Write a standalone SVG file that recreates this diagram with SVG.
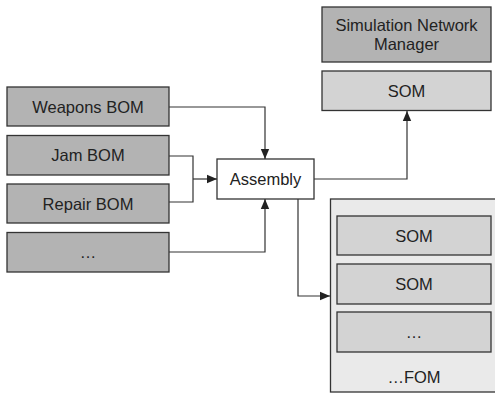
<svg xmlns="http://www.w3.org/2000/svg" width="495" height="394" viewBox="0 0 495 394">
  <style>
    .box { stroke: #333333; stroke-width: 1.3; }
    .dark { fill: #b3b3b3; }
    .light { fill: #d3d3d3; }
    .white { fill: #ffffff; }
    .pane { fill: #eaeaea; }
    .lbl { font-family: "Liberation Sans", Arial, sans-serif; font-size: 16.5px; fill: #222222; text-anchor: middle; }
    .wire { fill: none; stroke: #333333; stroke-width: 1.2; }
  </style>
  <defs>
    <marker id="arrow" markerUnits="userSpaceOnUse" markerWidth="10" markerHeight="10" viewBox="0 0 10 10" refX="10" refY="5" orient="auto">
      <path d="M0,0.8 L10,5 L0,9.2 Z" fill="#222222"/>
    </marker>
  </defs>

  <!-- input BOMs -->
  <g id="weapons-bom">
    <rect class="box dark" x="7" y="87" width="162" height="39"/>
    <text class="lbl" x="88" y="112.5">Weapons BOM</text>
  </g>
  <g id="jam-bom">
    <rect class="box dark" x="7" y="135.5" width="162" height="39.5"/>
    <text class="lbl" x="88" y="161">Jam BOM</text>
  </g>
  <g id="repair-bom">
    <rect class="box dark" x="7" y="184" width="162" height="39"/>
    <text class="lbl" x="88" y="209.5">Repair BOM</text>
  </g>
  <g id="more-bom">
    <rect class="box dark" x="7" y="232.5" width="162" height="39.5"/>
    <text class="lbl" x="88" y="258">…</text>
  </g>

  <!-- assembly step -->
  <g id="assembly">
    <rect class="box white" x="217" y="159" width="97" height="40"/>
    <text class="lbl" x="265.5" y="185">Assembly</text>
  </g>

  <!-- network manager and its SOM -->
  <g id="sim-network-manager">
    <rect class="box dark" x="322" y="7" width="169" height="55"/>
    <text class="lbl" x="406.5" y="31">Simulation Network</text>
    <text class="lbl" x="406.5" y="49.5">Manager</text>
  </g>
  <g id="som-top">
    <rect class="box light" x="322" y="71" width="169" height="39.5"/>
    <text class="lbl" x="406.5" y="96.5">SOM</text>
  </g>

  <!-- federation object model -->
  <g id="fom">
    <rect class="box pane" x="330.5" y="199" width="170" height="193"/>
    <text class="lbl" x="414" y="383">…FOM</text>
  </g>
  <g id="fom-som-1">
    <rect class="box light" x="337" y="216" width="154" height="39"/>
    <text class="lbl" x="414" y="241.5">SOM</text>
  </g>
  <g id="fom-som-2">
    <rect class="box light" x="337" y="264" width="154" height="40"/>
    <text class="lbl" x="414" y="290">SOM</text>
  </g>
  <g id="fom-more">
    <rect class="box light" x="337" y="312" width="154" height="40"/>
    <text class="lbl" x="414" y="338">…</text>
  </g>

  <!-- connectors -->
  <g id="connectors">
    <path class="wire" d="M169,107 H265 V159" marker-end="url(#arrow)"/>
    <path class="wire" d="M169,156 H193 V202 H169"/>
    <path class="wire" d="M193,179 H217" marker-end="url(#arrow)"/>
    <path class="wire" d="M169,252 H265 V199" marker-end="url(#arrow)"/>
    <path class="wire" d="M314,179 H407 V111" marker-end="url(#arrow)"/>
    <path class="wire" d="M298,199 V296 H330" marker-end="url(#arrow)"/>
  </g>
</svg>
